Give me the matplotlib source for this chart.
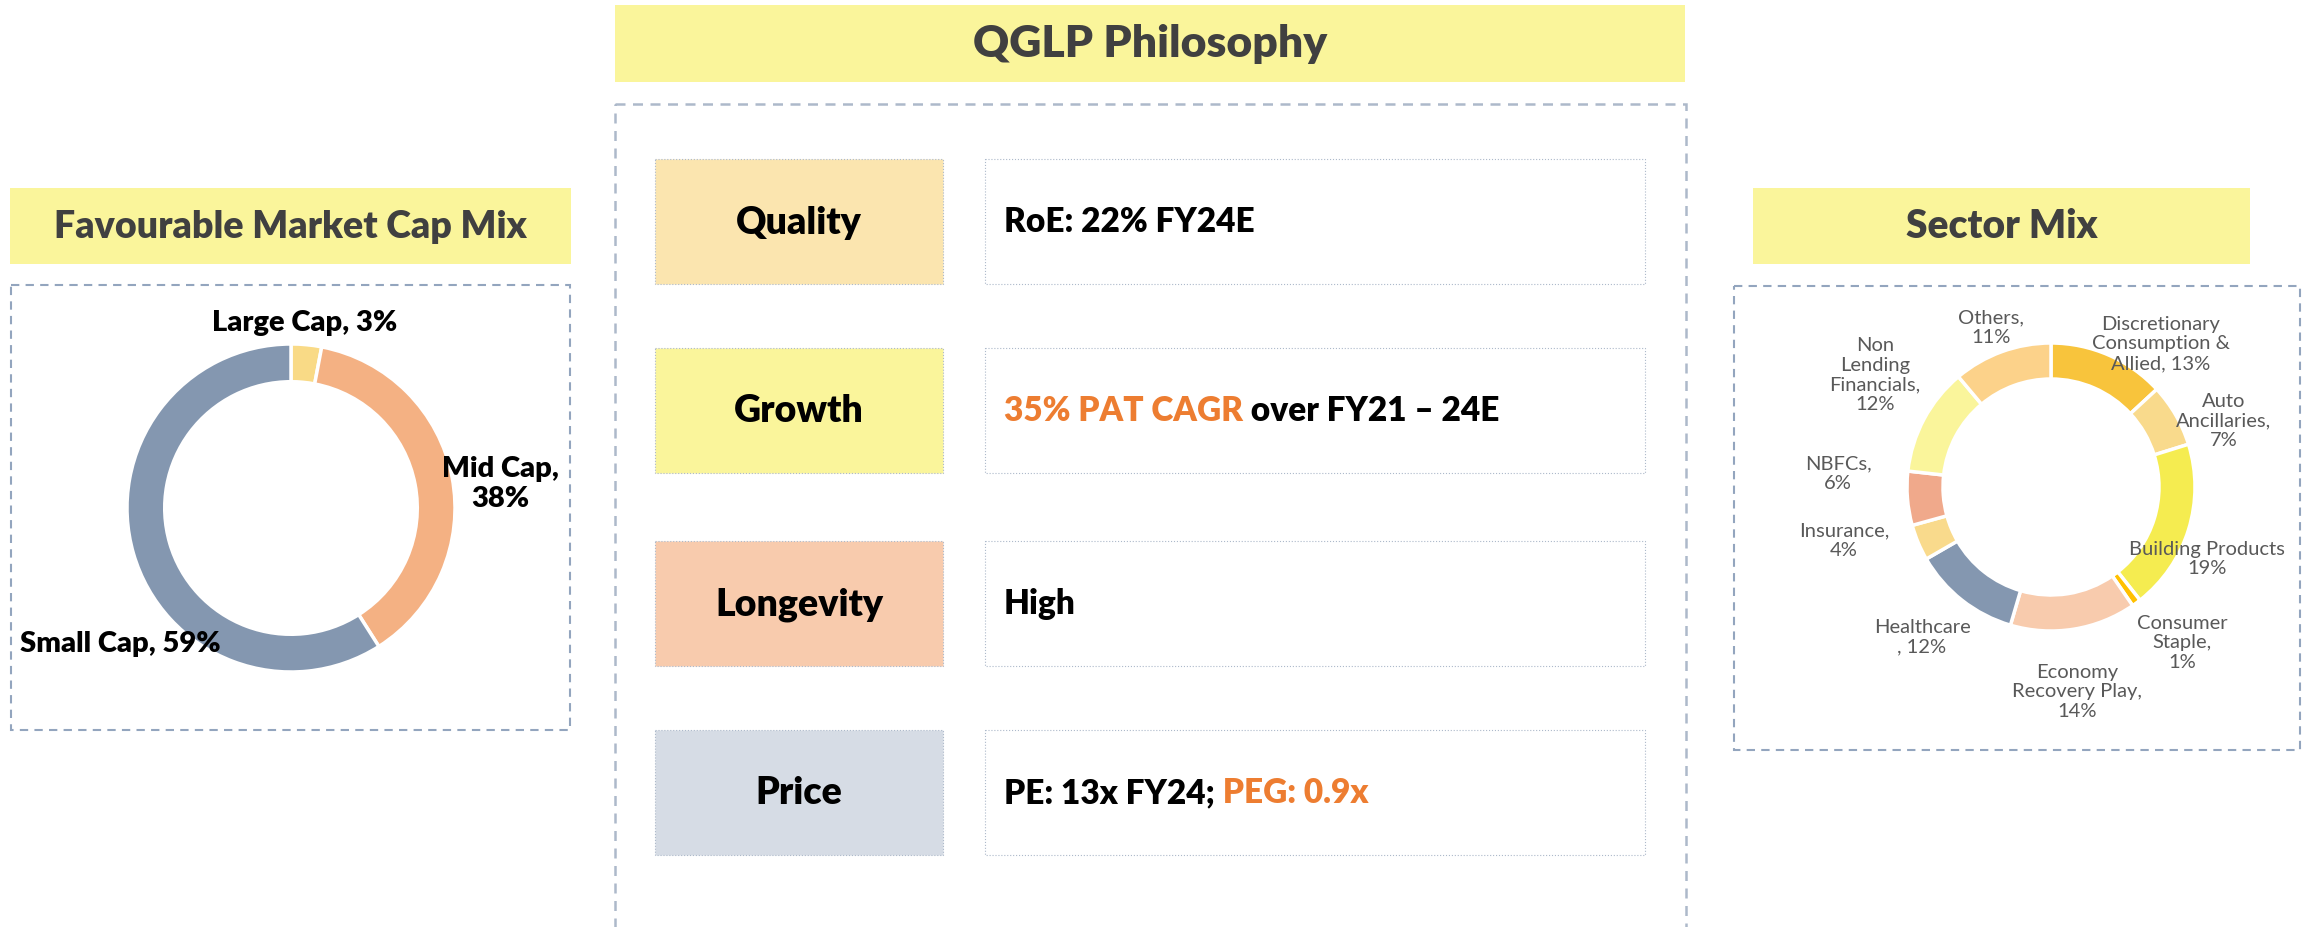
import numpy as np
import matplotlib.pyplot as plt
from matplotlib.patches import Rectangle

plt.rcParams['font.family'] = ['Lato', 'DejaVu Sans']

# ---- data ----
cap_names = ['Large Cap', 'Mid Cap', 'Small Cap']
cap_share = [3, 38, 59]
cap_labels = ['Large Cap, 3%', 'Mid Cap,\n38%', 'Small Cap, 59%']

sector_names = ['Discretionary Consumption & Allied', 'Auto Ancillaries',
                'Building Products', 'Consumer Staple', 'Economy Recovery Play',
                'Healthcare', 'Insurance', 'NBFCs', 'Non Lending Financials', 'Others']
sector_share = [13, 7, 19, 1, 14, 12, 4, 6, 12, 11]
sector_labels = ['Discretionary\nConsumption &\nAllied, 13%', 'Auto\nAncillaries,\n7%',
                 'Building Products\n19%', 'Consumer\nStaple,\n1%',
                 'Economy\nRecovery Play,\n14%', 'Healthcare\n, 12%', 'Insurance,\n4%',
                 'NBFCs,\n6%', 'Non\nLending\nFinancials,\n12%', 'Others,\n11%']

qglp_rows = ['Quality', 'Growth', 'Longevity', 'Price']
# each value line is a list of (text, highlighted?) runs
qglp_values = [
    [('RoE: 22% FY24E', False)],
    [('35% PAT CAGR', True), (' over FY21 \u2013 24E', False)],
    [('High', False)],
    [('PE: 13x FY24;', False), (' PEG: 0.9x', True)],
]

# ---- styles ----
W, H = 2316, 928
title_yellow = '#FAF59B'
row_colors = ['#FBE5AF', '#FAF59B', '#F8CBAD', '#D6DCE5']
cap_colors = ['#F9DA86', '#F4B183', '#8497B0']
sector_colors = ['#F8C43C', '#F9DA8C', '#F5EC50', '#FFC000', '#F8CBAD',
                 '#8497B0', '#F9DA8C', '#F0A98B', '#FAF59B', '#FCD28A']
orange = '#ED7D31'
title_grey = '#404040'
label_grey = '#595959'
box_line = '#ADB9CA'
heavy = 'heavy'

cap_label_pos = [(305, 323), (500, 484), (120, 644)]
sector_label_pos = [(2161, 344), (2224, 421), (2207, 559), (2182, 643), (2077, 692),
                    (1922, 637), (1844, 541), (1838, 474), (1875, 375), (1991, 328)]

fig = plt.figure(figsize=(W / 100, H / 100), dpi=100)

# market cap donut
R1, c1 = 164, (291, 509)
ax1 = fig.add_axes([(c1[0] - R1) / W, (H - c1[1] - R1) / H, 2 * R1 / W, 2 * R1 / H])
ax1.pie(cap_share, colors=cap_colors, startangle=90, counterclock=False,
        wedgeprops=dict(width=0.23, edgecolor='white', linewidth=2.5))
ax1.set_xlim(-1, 1)
ax1.set_ylim(-1, 1)
ax1.axis('off')

# sector donut
R2, c2 = 144, (2051, 488)
ax2 = fig.add_axes([(c2[0] - R2) / W, (H - c2[1] - R2) / H, 2 * R2 / W, 2 * R2 / H])
ax2.pie(sector_share, colors=sector_colors, startangle=90, counterclock=False,
        wedgeprops=dict(width=0.25, edgecolor='white', linewidth=2.5))
ax2.set_xlim(-1, 1)
ax2.set_ylim(-1, 1)
ax2.axis('off')

# overlay axes in pixel units for boxes and texts (on top of the donuts)
ax = fig.add_axes([0, 0, 1, 1])
ax.set_xlim(0, W)
ax.set_ylim(H, 0)
ax.axis('off')
ax.set_zorder(5)


def panel_title(x0, x1, y0, y1, text, size):
    ax.add_patch(Rectangle((x0, y0), x1 - x0, y1 - y0, facecolor=title_yellow, edgecolor='none'))
    ax.text((x0 + x1) / 2, (y0 + y1) / 2, text, ha='center', va='center',
            fontsize=size, fontweight=heavy, color=title_grey)


def dashed_box(x0, x1, y0, y1, color, lw):
    ax.add_patch(Rectangle((x0, y0), x1 - x0, y1 - y0, facecolor='none', edgecolor=color,
                           lw=lw, linestyle=(0, (4, 3))))


# titles and frames
panel_title(10, 571, 189, 265, 'Favourable Market Cap Mix', 27)
panel_title(615, 1685, 6, 83, 'QGLP Philosophy', 32)
panel_title(1753, 2250, 189, 265, 'Sector Mix', 28)

dashed_box(11, 570, 286, 731, '#93A5BE', 1.5)
dashed_box(615, 1686, 105, 1100, box_line, 1.8)
dashed_box(1734, 2300, 287, 751, '#93A5BE', 1.5)

# QGLP rows
row_top = [160, 349, 542, 731]
row_h = 125
for name, color, top, runs in zip(qglp_rows, row_colors, row_top, qglp_values):
    ax.add_patch(Rectangle((655, top), 288, row_h, facecolor=color, edgecolor=box_line,
                           lw=0.8, linestyle=':'))
    ax.add_patch(Rectangle((985, top), 660, row_h, facecolor='white', edgecolor=box_line,
                           lw=0.8, linestyle=':'))
    ax.text(799, top + row_h / 2, name, ha='center', va='center', fontsize=27,
            fontweight=heavy, color='black')
    prev = None
    for txt, hi in runs:
        col = orange if hi else 'black'
        if prev is None:
            prev = ax.text(1004, top + row_h / 2, txt, ha='left', va='center', fontsize=24,
                           fontweight=heavy, color=col)
        else:
            prev = ax.annotate(txt, xy=(1, 0), xycoords=prev, ha='left', va='bottom',
                               fontsize=24, fontweight=heavy, color=col)

for lab, (x, y) in zip(cap_labels, cap_label_pos):
    ax.text(x, y, lab, ha='center', va='center', fontsize=21, fontweight=heavy,
            color='black', linespacing=1.15)

for lab, (x, y) in zip(sector_labels, sector_label_pos):
    ax.text(x, y, lab, ha='center', va='center', fontsize=14.5, color=label_grey,
            linespacing=1.2)

fig.savefig('out.png', dpi=100, facecolor='white')
